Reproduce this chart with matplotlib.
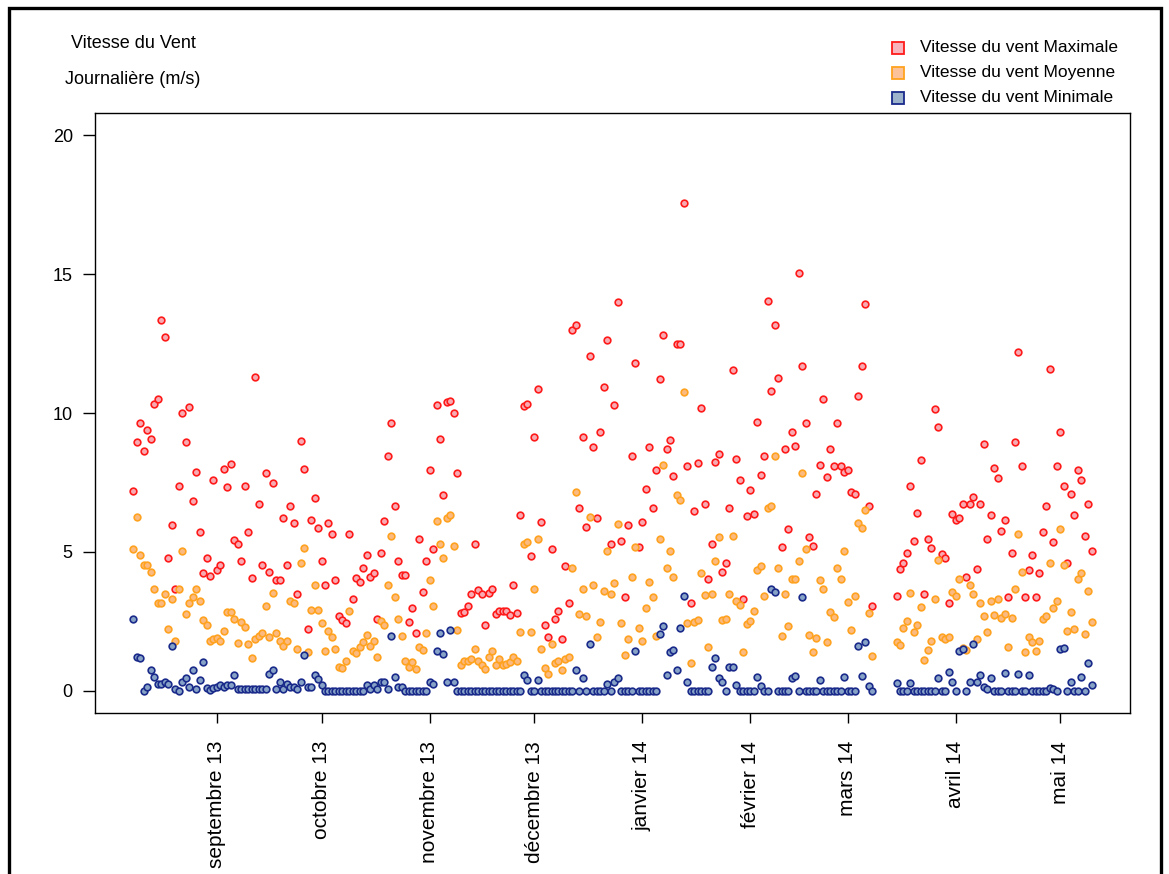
import numpy as np
import pandas as pd
import matplotlib
matplotlib.use('Agg')
import matplotlib.pyplot as plt
import matplotlib.dates as mdates
from matplotlib.lines import Line2D
from matplotlib.patches import Rectangle

plt.rcParams['font.family'] = ['Liberation Sans', 'DejaVu Sans']

# ---------------- data ----------------
start, end = '2013-08-08', '2014-05-10'
gap_start, gap_end = '2014-03-09', '2014-03-14'   # missing days
all_days = pd.date_range(start, end, freq='D')
dates = all_days[(all_days < gap_start) | (all_days > gap_end)]

vmax_aug = [7.2, 8.94, 9.64, 8.63, 9.39, 9.08, 10.32, 10.5, 13.36, 12.74, 4.79, 5.96,
            3.67, 7.39, 10.0, 8.94, 10.2, 6.83, 7.89, 5.72, 4.23, 4.79, 4.12, 7.58]
vmax_sep = [4.35, 4.53, 8.0, 7.32, 8.15, 5.42, 5.27, 4.67, 7.39, 5.72, 4.05, 11.3, 6.71,
            4.53, 7.84, 4.28, 7.47, 3.98, 3.98, 6.21, 4.53, 6.64, 6.03, 3.49, 9.01, 8.0,
            2.22, 6.16, 6.95, 5.85]
vmax_oct = [4.67, 3.8, 6.04, 5.66, 3.98, 2.7, 2.56, 2.44, 5.66, 3.3, 4.07, 3.9, 4.42, 4.9,
            4.1, 4.23, 2.6, 4.96, 6.1, 8.46, 9.63, 6.64, 4.67, 4.18, 4.18, 2.48, 2.97, 2.07,
            5.46, 3.54, 4.67]
vmax_nov = [7.95, 5.11, 10.3, 9.07, 7.03, 10.38, 10.44, 10.0, 7.84, 2.8, 2.82, 3.04, 3.49,
            5.27, 3.63, 3.49, 2.37, 3.51, 3.68, 2.76, 2.88, 2.88, 2.88, 2.72, 3.8, 2.8, 6.33,
            10.25, 10.32, 4.85]
vmax_dec = [9.15, 10.87, 6.09, 2.37, 1.92, 5.09, 2.6, 2.88, 1.86, 4.49, 3.17, 13.0, 13.18,
            6.58, 9.14, 5.91, 12.04, 8.76, 6.22, 9.32, 10.93, 12.62, 5.27, 10.3, 13.98, 5.41,
            3.36, 5.96, 8.46, 11.8, 5.17]
vmax_jan = [6.08, 7.27, 8.76, 6.58, 7.95, 11.24, 12.8, 8.7, 9.03, 7.72, 12.5, 12.5, 17.57,
            8.1, 3.15, 6.46, 8.2, 10.19, 6.71, 4.04, 5.27, 8.25, 8.52, 4.28, 4.59, 6.58,
            11.54, 8.34, 7.58, 3.32, 6.28]
vmax_feb = [7.22, 6.38, 9.68, 7.76, 8.46, 14.02, 10.8, 13.17, 11.25, 5.17, 8.69, 5.84, 9.32,
            8.83, 15.03, 11.68, 9.63, 5.54, 5.23, 7.07, 8.14, 10.5, 7.69, 8.7, 8.08, 9.63,
            8.08, 7.89]
vmax_mar = [7.96, 7.16, 7.09, 10.62, 11.68, 13.93, 6.64, 3.06,
            3.42, 4.4, 4.61, 4.97, 7.39, 5.41, 6.4, 8.31, 3.48, 5.47, 5.15, 10.13, 9.51,
            4.91, 4.79, 3.17, 6.37]
vmax_apr = [6.14, 6.22, 6.73, 4.11, 6.73, 6.98, 4.37, 6.73, 8.89, 5.47, 6.34, 8.03, 7.66,
            5.75, 6.14, 3.39, 4.97, 8.94, 12.18, 8.08, 3.36, 4.35, 4.9, 3.36, 4.23, 5.72,
            6.64, 11.57, 5.35, 8.08]
vmax_may = [9.32, 7.39, 4.61, 7.08, 6.34, 7.96, 7.58, 5.59, 6.73, 5.05]

vmoy_aug = [5.11, 6.27, 4.9, 4.54, 4.54, 4.28, 3.67, 3.17, 3.17, 3.49, 2.22, 3.3, 1.8, 3.67,
            5.03, 2.75, 3.17, 3.37, 3.67, 3.23, 2.56, 2.37, 1.8, 1.86]
vmoy_sep = [1.9, 1.8, 2.14, 2.82, 2.82, 2.6, 1.71, 2.46, 2.29, 1.68, 1.18, 1.86, 1.98, 2.08,
            3.06, 1.92, 3.53, 2.08, 1.8, 1.62, 1.8, 3.24, 3.15, 1.5, 4.61, 5.15, 1.39, 2.91,
            3.8, 2.91]
vmoy_oct = [2.44, 1.45, 2.17, 1.92, 1.5, 0.87, 0.81, 1.08, 2.88, 1.45, 1.36, 1.56, 1.74, 2.0,
            1.62, 1.8, 1.2, 2.52, 2.37, 3.8, 5.59, 3.36, 2.6, 1.98, 1.08, 0.87, 1.05, 0.79,
            1.56, 1.48, 2.07]
vmoy_nov = [3.98, 3.06, 6.1, 5.29, 4.79, 6.21, 6.34, 5.21, 2.19, 0.91, 1.08, 1.08, 1.15, 1.5,
            1.08, 0.93, 0.79, 1.23, 1.45, 0.93, 1.15, 0.93, 0.97, 1.03, 1.2, 1.08, 2.12, 5.29,
            5.36, 2.12]
vmoy_dec = [3.66, 5.46, 1.5, 0.81, 0.61, 1.68, 1.0, 1.08, 0.73, 1.15, 1.2, 4.43, 7.16, 2.76,
            3.66, 2.68, 6.26, 3.8, 1.92, 2.48, 3.6, 5.03, 3.48, 3.87, 6.02, 2.44, 1.29, 1.86,
            4.1, 5.17, 2.25]
vmoy_jan = [1.8, 2.97, 3.92, 3.36, 1.98, 5.47, 8.14, 4.43, 5.03, 4.1, 7.06, 6.88, 10.76, 2.43,
            1.0, 2.48, 2.56, 4.23, 3.44, 1.56, 3.48, 4.67, 5.54, 2.56, 2.6, 3.48, 5.59, 3.24,
            3.1, 1.39, 2.42]
vmoy_feb = [2.52, 2.88, 4.35, 4.49, 3.42, 6.58, 6.64, 8.46, 4.41, 1.98, 3.49, 2.32, 4.04, 4.04,
            4.66, 7.84, 5.09, 2.0, 1.39, 1.89, 3.99, 3.66, 1.74, 2.84, 2.66, 4.41, 4.04, 5.03]
vmoy_mar = [3.18, 2.19, 3.42, 6.04, 5.85, 6.52, 2.8, 1.24,
            1.77, 1.66, 2.25, 2.52, 3.53, 2.13, 2.38, 3.0, 1.12, 1.48, 1.8, 3.3, 4.71, 1.92,
            1.86, 1.92, 3.56]
vmoy_apr = [3.42, 4.04, 1.55, 1.48, 3.8, 3.48, 1.86, 3.15, 2.68, 2.1, 3.24, 2.73, 3.3, 2.63,
            2.75, 1.56, 2.63, 3.68, 5.66, 4.28, 1.39, 1.92, 1.74, 1.43, 1.79, 2.6, 2.7, 4.59,
            2.99, 3.24]
vmoy_may = [5.83, 4.53, 2.16, 2.84, 2.22, 4.04, 4.23, 2.06, 3.6, 2.48]

vmin_aug = [2.6, 1.23, 1.17, 0.0, 0.13, 0.76, 0.51, 0.25, 0.25, 0.3, 0.25, 1.62, 0.05, 0.0,
            0.32, 0.45, 0.13, 0.76, 0.05, 0.4, 1.05, 0.1, 0.03, 0.1]
vmin_sep = [0.13, 0.19, 0.13, 0.19, 0.19, 0.55, 0.05, 0.05, 0.05, 0.05, 0.05, 0.07, 0.05,
            0.05, 0.05, 0.62, 0.76, 0.05, 0.3, 0.07, 0.25, 0.13, 0.13, 0.05, 0.33, 1.3, 0.13,
            0.14, 0.57, 0.43]
vmin_oct = [0.19, 0, 0, 0, 0, 0, 0, 0, 0, 0, 0, 0, 0, 0.19, 0.05, 0.22, 0.05, 0.33, 0.3,
            0.07, 1.98, 0.49, 0.14, 0.14, 0, 0, 0, 0, 0, 0, 0]
vmin_nov = [0.3, 0.25, 1.45, 2.07, 1.32, 0.3, 2.19, 0.3, 0, 0, 0, 0, 0, 0, 0, 0, 0, 0, 0, 0,
            0, 0, 0, 0, 0, 0, 0, 0.57, 0.37, 0]
vmin_dec = [0, 0.4, 0, 0, 0, 0, 0, 0, 0, 0, 0, 0, 0.76, 0, 0.45, 0, 1.68, 0, 0, 0, 0, 0.25,
            0, 0.3, 0.45, 0, 0, 0, 0, 1.45, 0]
vmin_jan = [0, 0, 0, 0, 0, 2.04, 2.34, 0.55, 1.41, 1.47, 0.75, 2.25, 3.42, 0.3, 0, 0, 0, 0,
            0, 0, 0.87, 1.17, 0.45, 0.3, 0, 0.87, 0.87, 0.19, 0, 0, 0]
vmin_feb = [0, 0, 0.51, 0.16, 0, 0, 3.66, 3.56, 0, 0, 0, 0, 0.45, 0.53, 0, 3.36, 0, 0, 0, 0,
            0.37, 0, 0, 0, 0, 0, 0, 0.49]
vmin_mar = [0, 0, 0, 1.62, 0.53, 1.74, 0.17, 0.0,
            0.29, 0, 0, 0, 0.29, 0, 0, 0, 0, 0, 0, 0, 0.45, 0, 0, 0.67, 0.33]
vmin_apr = [0, 1.45, 1.5, 0, 0.33, 1.68, 0.33, 0.57, 0.13, 0.07, 0.45, 0, 0, 0, 0.65, 0, 0,
            0, 0.62, 0, 0, 0.55, 0, 0, 0, 0, 0, 0.1, 0.07, 0]
vmin_may = [1.5, 1.55, 0, 0.3, 0, 0, 0.49, 0, 1.0, 0.19]

vmax = (vmax_aug + vmax_sep + vmax_oct + vmax_nov + vmax_dec + vmax_jan + vmax_feb
        + vmax_mar + vmax_apr + vmax_may)
vmoy = (vmoy_aug + vmoy_sep + vmoy_oct + vmoy_nov + vmoy_dec + vmoy_jan + vmoy_feb
        + vmoy_mar + vmoy_apr + vmoy_may)
vmin = (vmin_aug + vmin_sep + vmin_oct + vmin_nov + vmin_dec + vmin_jan + vmin_feb
        + vmin_mar + vmin_apr + vmin_may)

month_ticks = pd.date_range('2013-09-01', '2014-05-01', freq='MS')
month_labels = ['septembre 13', 'octobre 13', 'novembre 13', 'décembre 13', 'janvier 14',
                'février 14', 'mars 14', 'avril 14', 'mai 14']
y_ticks = [0, 5, 10, 15, 20]

series_labels = ['Vitesse du vent Maximale', 'Vitesse du vent Moyenne',
                 'Vitesse du vent Minimale']
edge_colors = ['#FF1A1A', '#FFA21F', '#1A2A8A']
face_colors = ['#F7AAB2', '#FBBA80', '#86A2C6']
legend_faces = ['#F8B4BC', '#FCC29A', '#9DB2CB']

# ---------------- figure ----------------
W, H = 1169, 874
fig = plt.figure(figsize=(W / 100, H / 100), dpi=100)
ax = fig.add_axes([95 / W, 1 - 713 / H, (1130 - 95) / W, (713 - 113) / H])

for vals, ec, fc in zip([vmax, vmoy, vmin], edge_colors, face_colors):
    ax.plot(dates, vals, linestyle='none', marker='o', markersize=4.8,
            markerfacecolor=fc, markeredgecolor=ec, markeredgewidth=1.2)

x0 = mdates.date2num(dates[0])
x1 = mdates.date2num(dates[-1])
span = (x1 - x0) * 0.04
ax.set_xlim(x0 - span, x1 + span)
ax.set_ylim(-0.8, 20.8)

ax.set_xticks(mdates.date2num(month_ticks))
ax.set_xticklabels(month_labels, rotation=90, fontsize=15, va='top', ha='center')
ax.set_yticks(y_ticks)
ax.set_yticklabels([str(v) for v in y_ticks], fontsize=13)
ax.tick_params(axis='x', length=7, width=1, pad=13, direction='out')
ax.tick_params(axis='y', length=9, width=1, pad=7, direction='out')
for sp in ax.spines.values():
    sp.set_linewidth(1.0)
    sp.set_color('black')

# y-axis title (two lines, top-left)
fig.text(133 / W, 1 - 44 / H, 'Vitesse du Vent', ha='center', va='center', fontsize=13)
fig.text(133 / W, 1 - 80 / H, 'Journalière (m/s)', ha='center', va='center', fontsize=13)

# legend (top-right, no frame)
for i, (lab, ec, fc) in enumerate(zip(series_labels, edge_colors, legend_faces)):
    yc = 1 - (48 + 25 * i) / H
    fig.add_artist(Line2D([898 / W], [yc], marker='s', markersize=9, linestyle='none',
                          markerfacecolor=fc, markeredgecolor=ec, markeredgewidth=1.3,
                          transform=fig.transFigure))
    fig.text(920 / W, yc, lab, ha='left', va='center', fontsize=12.5)

# outer black frame of the picture
fig.add_artist(Rectangle((8.5 / W, -0.05), (1161 - 8.5) / W, 1.05 - 7.5 / H,
                         transform=fig.transFigure, fill=False, lw=2.4, ec='black'))

fig.savefig('out.png', dpi=100)
